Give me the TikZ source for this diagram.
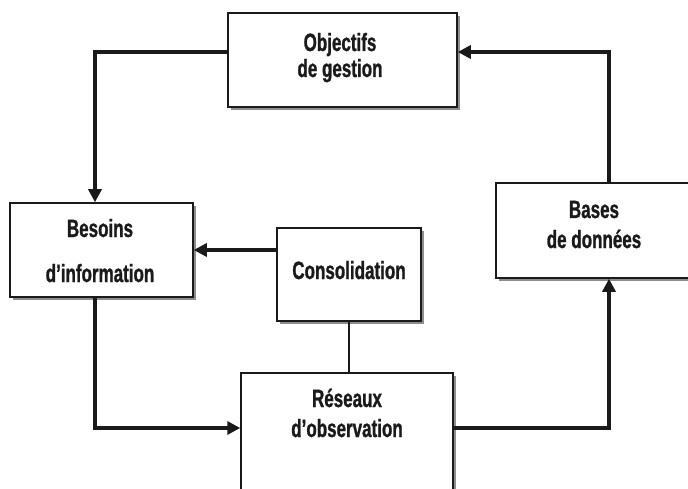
\documentclass[tikz,border=0pt]{standalone}
\usepackage{fontspec}
\newfontfamily\lblfont[FakeStretch=0.68, BoldFeatures={FakeBold=1}]{Liberation Sans}
\usetikzlibrary{arrows.meta,shadows}
\definecolor{edge}{HTML}{1A1A1A}
\definecolor{shade}{HTML}{8E8E8E}
\definecolor{ink}{HTML}{1A1A1A}
\begin{document}
\begin{tikzpicture}[x=1pt,y=-1pt,
  box/.style={draw=edge, line width=1.5pt, fill=white, rectangle, inner sep=0pt,
    drop shadow={shadow xshift=3pt, shadow yshift=-3pt, fill=shade, opacity=1}},
  lbl/.style={anchor=base, inner sep=0pt, text=ink, font=\lblfont\bfseries\fontsize{25}{30}\selectfont},
  conn/.style={draw=edge, line width=4pt, line join=miter, -{Triangle[length=13pt,width=13pt]}},
  thin/.style={draw=edge, line width=1.5pt}]
\useasboundingbox (0,0) rectangle (688,489);
\clip (0,0) rectangle (688,489);
% boxes
\node[box, minimum width=229pt, minimum height=94pt] (obj) at (342.5,60) {};
\node[box, minimum width=183pt, minimum height=94pt] (bes) at (101.5,250) {};
\node[box, minimum width=144pt, minimum height=93pt] (cons) at (349,274.5) {};
\node[box, minimum width=212pt, minimum height=122pt] (res) at (347,434) {};
\node[box, minimum width=196pt, minimum height=95pt] (bas) at (594,230.5) {};
% labels
\node[lbl] (objA) at (340,51) {Objectifs};
\node[lbl] (objB) at (340,77) {de gestion};
\node[lbl] (besA) at (100,237) {Besoins};
\node[lbl] (besB) at (100,282) {d’information};
\node[lbl] (consA) at (349,279) {Consolidation};
\node[lbl] (resA) at (347,407) {Réseaux};
\node[lbl] (resB) at (347,437) {d’observation};
\node[lbl] (basA) at (594,218) {Bases};
\node[lbl] (basB) at (594,248) {de données};
% connectors
\draw[conn] ([yshift=8pt]obj.west) -| ([xshift=-6.5pt]bes.north);
\draw[conn] ([xshift=15pt]bas.north) |- ([yshift=8pt]obj.east);
\draw[conn] (cons.west |- bes.east) -- (bes.east);
\draw[thin] (cons.south) -- (cons.south |- res.north);
\draw[conn] ([xshift=-6.5pt]bes.south) |- ([yshift=6pt]res.west);
\draw[conn] ([yshift=6pt]res.east) -| ([xshift=15pt]bas.south);
\end{tikzpicture}
\end{document}
